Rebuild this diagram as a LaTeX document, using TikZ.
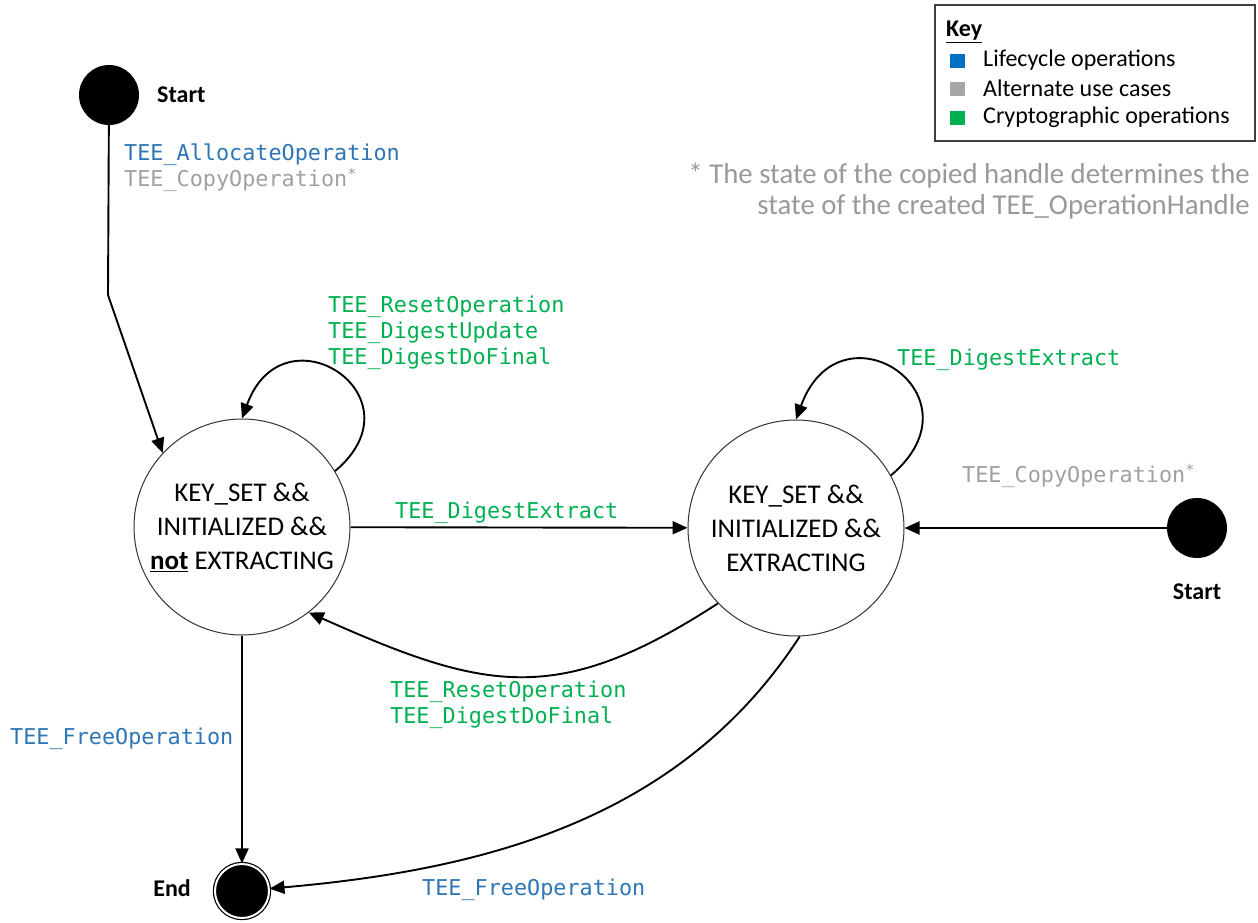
\documentclass[tikz,border=0pt]{standalone}
\usepackage{fontspec}
\setmainfont{Carlito}
\newfontfamily\codefont{DejaVu Sans Mono}
\usetikzlibrary{arrows.meta}

\definecolor{lifeblue}{HTML}{2E75B6}
\definecolor{altgray}{HTML}{A0A0A0}
\definecolor{cryptgreen}{HTML}{00B050}
\definecolor{keyblue}{HTML}{0070C0}
\definecolor{keygray}{HTML}{A6A6A6}
\definecolor{notegray}{HTML}{999999}

\begin{document}
\begin{tikzpicture}[x=1pt, y=-1pt,
    statecirc/.style={draw=black!80, line width=1pt, circle, minimum size=216pt, inner sep=0pt, align=center, font=\fontsize{27}{34}\selectfont},
    startdot/.style={circle, fill=black, minimum size=60pt, inner sep=0pt},
    enddot/.style={circle, fill=black, draw=black, line width=1.2pt, double=white, double distance=2pt, minimum size=54pt, inner sep=0pt},
    trans/.style={line width=1.9pt, -{Triangle[length=15pt,width=13pt]}},
    code/.style={inner sep=0pt, anchor=west, align=left, font=\codefont\fontsize{21.8}{26}\selectfont},
    tag/.style={inner sep=0pt, font=\bfseries\fontsize{24}{29}\selectfont},
    keytext/.style={inner sep=0pt, anchor=west, font=\fontsize{24}{29}\selectfont},
    keysq/.style={minimum width=15pt, minimum height=14pt, inner sep=0pt}
]
            \useasboundingbox (0,0) rectangle (1258,923);

            % States
            \node[statecirc] (L) at (242,527) {KEY\_SET \&\&\\INITIALIZED \&\&\\\underline{\textbf{not}} EXTRACTING};
            \node[statecirc] (R) at (796,528) {KEY\_SET \&\&\\INITIALIZED \&\&\\EXTRACTING};

            % Start and end points
            \node[startdot] (start1) at (109,95) {};
            \node[tag, anchor=west] (start1lbl) at (157,95) {Start};
            \node[startdot] (start2) at (1197,528) {};
            \node[tag] (start2lbl) at (1197,592) {Start};
            \node[enddot] (end) at (242,891) {};
            \node[tag, anchor=east] (endlbl) at (191,888) {End};
            \coordinate (bend1) at (108,295);

            % Transitions
            \draw[trans] (start1) -- (bend1) -- (L.137);
            \draw[trans] (L.31) to[out=40, in=70, out looseness=2.8, in looseness=2.9] (L.90);
            \draw[trans] (R.29) to[out=40, in=70, out looseness=2.9, in looseness=3.0] (R.90);
            \draw[trans] (L) -- (R);
            \draw[trans] (start2) -- (R);
            \draw[trans] (R.224) to[out=213, in=-24, looseness=1.2] (L.308);
            \draw[trans] (L) -- (end);
            \draw[trans] (R.272) to[out=237, in=5, looseness=0.95] (end);

            % Transition labels
            \node[code] (allocLbl) at (124,168) {\textcolor{lifeblue}{TEE\_AllocateOperation}\\\textcolor{altgray}{TEE\_CopyOperation\textsuperscript{*}}};
            \node[code, text=cryptgreen] (loopLLbl) at (328,333) {TEE\_ResetOperation\\TEE\_DigestUpdate\\TEE\_DigestDoFinal};
            \node[code, text=cryptgreen] (loopRLbl) at (897,360) {TEE\_DigestExtract};
            \node[code, text=cryptgreen] (extractLbl) at (395,513) {TEE\_DigestExtract};
            \node[code, text=altgray] (copyLbl) at (962,476) {TEE\_CopyOperation\textsuperscript{*}};
            \node[code, text=cryptgreen] (backLbl) at (390,705) {TEE\_ResetOperation\\TEE\_DigestDoFinal};
            \node[code, text=lifeblue] (freeLLbl) at (10,739) {TEE\_FreeOperation};
            \node[code, text=lifeblue] (freeRLbl) at (422,890) {TEE\_FreeOperation};

            % Key
            \draw[draw=black!75, line width=1.5pt] (935,5) rectangle (1255,141);
            \node[keytext, font=\bfseries\fontsize{24}{29}\selectfont] (keyhead) at (946,32) {\underline{Key}};
            \node[keysq, fill=keyblue] (sqblue) at (957,61) {};
            \node[keysq, fill=keygray] (sqgray) at (957,89) {};
            \node[keysq, fill=cryptgreen] (sqgreen) at (957,118) {};
            \node[keytext] (keylife) at (983,60) {Lifecycle operations};
            \node[keytext] (keyalt) at (983,88) {Alternate use cases};
            \node[keytext] (keycrypt) at (983,117) {Cryptographic operations};

            % Footnote
            \node[inner sep=0pt, anchor=east, align=right, text=notegray, font=\fontsize{28.8}{31}\selectfont] (note) at (1250,191) {* The state of the copied handle determines the\\state of the created TEE\_OperationHandle};
\end{tikzpicture}
\end{document}
